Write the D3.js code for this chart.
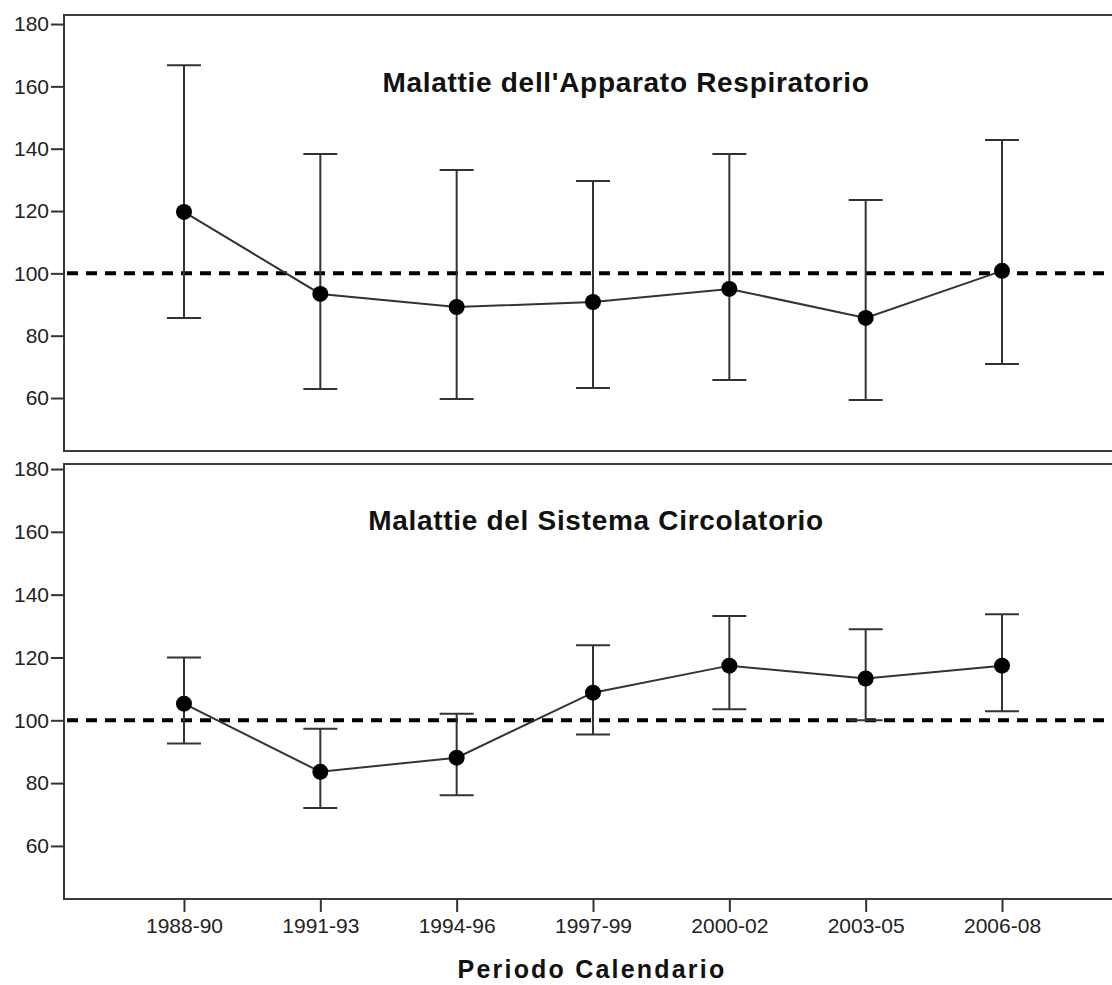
<!DOCTYPE html>
<html>
<head>
<meta charset="utf-8">
<script src="https://cdnjs.cloudflare.com/ajax/libs/d3/7.8.5/d3.min.js"></script>
<style>
  body { margin: 0; background: #fff; }
  svg { display: block; font-family: "Liberation Sans", Arial, sans-serif; }
  .tick text { font-size: 21px; fill: #222; }
  .domain { display: none; }
  .tick line { stroke: #333; stroke-width: 2; }
</style>
</head>
<body>
<div id="chart"></div>
<script>
// data
const periods = ["1988-90", "1991-93", "1994-96", "1997-99", "2000-02", "2003-05", "2006-08"];

const respMean = [119.7, 93.4, 89.2, 90.8, 95.0, 85.7, 100.8];
const respLow  = [85.7, 62.9, 59.7, 63.2, 65.8, 59.4, 70.9];
const respHigh = [166.8, 138.3, 133.2, 129.6, 138.3, 123.5, 142.8];

const circMean = [105.3, 83.6, 88.1, 108.8, 117.4, 113.3, 117.4];
const circLow  = [92.6, 72.1, 76.1, 95.5, 103.5, 100.0, 102.9];
const circHigh = [120.0, 97.3, 102.1, 123.9, 133.2, 129.0, 133.8];

const yTicks = [60, 80, 100, 120, 140, 160, 180];
const refValue = 100;

const panels = [
  { title: "Malattie dell'Apparato Respiratorio", mean: respMean, low: respLow, high: respHigh },
  { title: "Malattie del Sistema Circolatorio", mean: circMean, low: circLow, high: circHigh }
];

const svgWidth = 1112, svgHeight = 985;
const left = 64, right = 1122;

const svg = d3.select("#chart")
  .append("svg")
  .attr("width", svgWidth)
  .attr("height", svgHeight);

const x = d3.scalePoint()
  .domain(periods)
  .range([left, right])
  .padding(0.88);

// each panel has its own vertical box
const boxes = [
  { top: 15, bottom: 451, domain: [43.0, 182.9], titleX: 626, titleY: 92 },
  { top: 464, bottom: 899, domain: [43.1, 181.6], titleX: 596, titleY: 530 }
];

panels.forEach(function(p, i) {
  const b = boxes[i];
  const y = d3.scaleLinear().domain(b.domain).range([b.bottom, b.top]);
  const g = svg.append("g");

  // frame
  g.append("rect")
    .attr("x", left)
    .attr("y", b.top)
    .attr("width", right - left)
    .attr("height", b.bottom - b.top)
    .attr("fill", "none")
    .attr("stroke", "#3a3a3a")
    .attr("stroke-width", 2);

  // y axis
  g.append("g")
    .attr("transform", `translate(${left},0)`)
    .call(d3.axisLeft(y).tickValues(yTicks).tickSize(13).tickPadding(2));

  // reference line at 100
  g.append("line")
    .attr("x1", left + 3)
    .attr("x2", right)
    .attr("y1", y(refValue))
    .attr("y2", y(refValue))
    .attr("stroke", "#000")
    .attr("stroke-width", 4)
    .attr("stroke-dasharray", "11,8");

  // error bars
  const bars = g.selectAll(".bar")
    .data(periods)
    .enter()
    .append("g")
    .attr("class", "bar")
    .attr("stroke", "#333")
    .attr("stroke-width", 2);

  bars.append("line")
    .attr("x1", d => x(d)).attr("x2", d => x(d))
    .attr("y1", (d, j) => y(p.low[j]))
    .attr("y2", (d, j) => y(p.high[j]));

  bars.append("line")
    .attr("x1", d => x(d) - 17).attr("x2", d => x(d) + 17)
    .attr("y1", (d, j) => y(p.high[j]))
    .attr("y2", (d, j) => y(p.high[j]));

  bars.append("line")
    .attr("x1", d => x(d) - 17).attr("x2", d => x(d) + 17)
    .attr("y1", (d, j) => y(p.low[j]))
    .attr("y2", (d, j) => y(p.low[j]));

  // mean line and points
  const line = d3.line()
    .x((d, j) => x(periods[j]))
    .y(d => y(d));

  g.append("path")
    .datum(p.mean)
    .attr("d", line)
    .attr("fill", "none")
    .attr("stroke", "#333")
    .attr("stroke-width", 2);

  g.selectAll(".pt")
    .data(p.mean)
    .enter()
    .append("circle")
    .attr("class", "pt")
    .attr("cx", (d, j) => x(periods[j]))
    .attr("cy", d => y(d))
    .attr("r", 8)
    .attr("fill", "#000");

  // panel title
  g.append("text")
    .attr("x", b.titleX)
    .attr("y", b.titleY)
    .attr("text-anchor", "middle")
    .style("font-size", "28px")
    .style("font-weight", "bold")
    .style("letter-spacing", "0.7px")
    .attr("fill", "#111")
    .text(p.title);

  // x axis only under the lower panel
  if (i === panels.length - 1) {
    g.append("g")
      .attr("transform", `translate(0,${b.bottom})`)
      .call(d3.axisBottom(x).tickSize(13).tickPadding(6));
  }
});

// x axis title
svg.append("text")
  .attr("x", 592)
  .attr("y", 978)
  .attr("text-anchor", "middle")
  .style("font-size", "25px")
  .style("font-weight", "bold")
  .style("letter-spacing", "2.2px")
  .attr("fill", "#111")
  .text("Periodo Calendario");
</script>
</body>
</html>
